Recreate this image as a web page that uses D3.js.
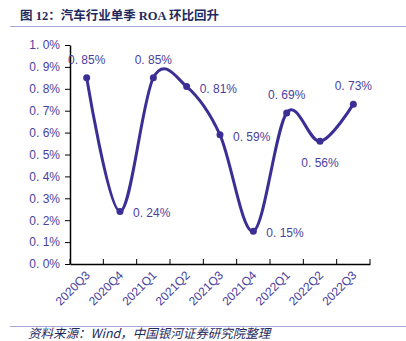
<!DOCTYPE html>
<html><head><meta charset="utf-8">
<script src="https://cdn.jsdelivr.net/npm/d3@7"></script>
<style>
body{margin:0;background:#fff;}
svg{display:block;}
</style></head>
<body>
<svg id="c" width="406" height="341"></svg>
<script>
const categories = ["2020Q3","2020Q4","2021Q1","2021Q2","2021Q3","2021Q4","2022Q1","2022Q2","2022Q3"];
const roa = [0.85,0.24,0.85,0.81,0.59,0.15,0.69,0.56,0.73];
const labelPos = ["top","right","top","right","right","right","top","bottom","top"];
const yTicks = [0,0.1,0.2,0.3,0.4,0.5,0.6,0.7,0.8,0.9,1.0];

const svg = d3.select("#c");
const lineColor = "#3b2f95";
const textColor = "#4a3fa0";
const cjk = "'Noto Sans CJK SC', sans-serif";
const lat = "'Liberation Sans', Arial, sans-serif";

// title
svg.append("text").attr("x",20).attr("y",20)
  .attr("font-family","'Liberation Serif', 'Noto Sans CJK SC', serif").attr("font-weight","bold").attr("font-size",12.5)
  .attr("fill","#1e2a5e").text("图 12：汽车行业单季 ROA 环比回升");
svg.append("line").attr("x1",10).attr("x2",406).attr("y1",26.5).attr("y2",26.5)
  .attr("stroke","#a7a8d4").attr("stroke-width",1);

const x = d3.scaleBand().domain(categories).range([70,370]).paddingInner(0).paddingOuter(0);
const y = d3.scaleLinear().domain([0,1.0]).range([264,45]);

// y axis
const ya = svg.append("g").attr("transform","translate(70,0)")
  .call(d3.axisLeft(y).tickValues(yTicks).tickSize(5).tickSizeOuter(0).tickFormat(d=>d.toFixed(1).replace(".",". ")+"%"));
ya.select(".domain").attr("stroke","#000").attr("stroke-width",1.5);
ya.selectAll(".tick line").attr("stroke","#000");
ya.selectAll(".tick text").attr("font-family",lat).attr("font-size",12).attr("fill",textColor).attr("x",-10);

// x axis
const xa = svg.append("g").attr("transform","translate(0,264)")
  .call(d3.axisBottom(x).tickSize(0).tickSizeOuter(0));
xa.select(".domain").attr("stroke","#000").attr("stroke-width",1.5);
xa.selectAll(".tick line").remove();
xa.selectAll(".tick text")
  .attr("font-family",lat).attr("font-size",12).attr("fill",textColor)
  .attr("text-anchor","end").attr("dy",0).attr("y",0)
  .attr("transform","translate(4,12) rotate(-45)");
// boundary ticks pointing up
const bounds = categories.map(c=>x(c)).concat([x.range()[1]]);
xa.selectAll(".bt").data(bounds).enter().append("line")
  .attr("x1",d=>d).attr("x2",d=>d).attr("y1",0).attr("y2",-5)
  .attr("stroke","#000").attr("stroke-width",1);

const cx = (c)=>x(c)+x.bandwidth()/2;
const pts = categories.map((c,i)=>[cx(c), y(roa[i])]);

svg.append("path").datum(pts)
  .attr("d", d3.line().curve(d3.curveCatmullRom.alpha(0)))
  .attr("fill","none").attr("stroke",lineColor).attr("stroke-width",3)
  .attr("stroke-linecap","round");

svg.selectAll(".pt").data(pts).enter().append("circle")
  .attr("cx",d=>d[0]).attr("cy",d=>d[1]).attr("r",3.5).attr("fill",lineColor);

svg.selectAll(".lbl").data(pts).enter().append("text")
  .attr("font-family",lat).attr("font-size",12).attr("fill",textColor)
  .attr("x",(d,i)=> labelPos[i]==="right" ? d[0]+13 : d[0])
  .attr("y",(d,i)=> labelPos[i]==="top" ? d[1]-14 : labelPos[i]==="bottom" ? d[1]+26 : d[1]+6)
  .attr("text-anchor",(d,i)=> labelPos[i]==="right" ? "start" : "middle")
  .text((d,i)=> roa[i].toFixed(2).replace(".",". ")+"%");

// footer
svg.append("line").attr("x1",10).attr("x2",406).attr("y1",326.5).attr("y2",326.5)
  .attr("stroke","#a7a8d4").attr("stroke-width",1);
svg.append("text").attr("x",28).attr("y",338)
  .attr("font-family",cjk).attr("font-style","italic").attr("font-size",12.5)
  .attr("fill","#1e2a5e").text("资料来源：Wind，中国银河证券研究院整理");
</script>
</body></html>
